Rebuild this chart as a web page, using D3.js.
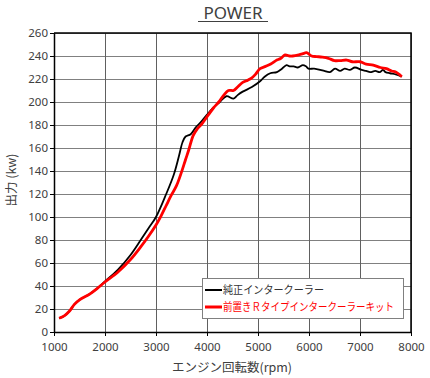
<!DOCTYPE html>
<html>
<head>
<meta charset="utf-8">
<script src="https://cdn.jsdelivr.net/npm/d3@7"></script>
<style>
  body { margin: 0; background: #fff; }
  svg text { font-family: "Noto Sans", "Noto Sans CJK JP", sans-serif; fill: #404040; }
</style>
</head>
<body>
<svg id="power_svg" width="430" height="378"></svg>
<script>
// engine speed (rpm) and output (kW)
var stockRpm = [1100, 1200, 1300, 1400, 1500, 1700, 1850, 2000, 2250, 2500, 2700, 2850, 3000, 3200, 3350, 3450, 3520, 3580, 3680, 3780, 3870, 4000, 4100, 4250, 4380, 4520, 4600, 4700, 4880, 5040, 5130, 5240, 5370, 5470, 5560, 5620, 5700, 5780, 5880, 5940, 5990, 6100, 6220, 6300, 6410, 6510, 6610, 6700, 6800, 6900, 7030, 7120, 7200, 7300, 7390, 7450, 7500, 7590, 7700, 7820]
var stockKw = [12, 14, 18, 24, 28, 33, 38, 44, 54, 67, 80, 90, 100, 120, 137, 153, 165, 170, 172, 178, 182, 189, 194, 200, 205, 203, 206, 209, 213, 218, 222, 225, 226, 229, 232, 231, 231, 230, 232, 231, 229, 229, 228, 227, 226, 229, 227, 229, 228, 230, 228, 227, 226, 227, 226, 228, 226, 225, 224, 222]

var kitRpm = [1100, 1200, 1300, 1400, 1500, 1700, 1850, 2000, 2250, 2500, 2700, 2850, 3000, 3100, 3200, 3300, 3400, 3500, 3580, 3640, 3730, 3800, 3900, 4030, 4130, 4230, 4330, 4420, 4520, 4600, 4700, 4800, 4880, 4950, 5040, 5150, 5250, 5350, 5450, 5530, 5620, 5680, 5800, 5880, 5950, 6050, 6150, 6260, 6380, 6500, 6610, 6740, 6850, 7000, 7120, 7260, 7400, 7520, 7620, 7700, 7820]
var kitKw = [12, 14, 18, 24, 28, 33, 38, 43.5, 52, 63, 74, 83, 93, 101, 110, 119, 127, 139, 150, 158, 171, 176, 181, 189, 195, 200, 206, 210, 210, 213, 217, 219, 221, 224, 229, 231, 233, 236, 238, 241, 240, 240, 241, 242, 243, 240, 239.5, 239, 238, 236, 236, 236.5, 235, 235, 233, 232, 230, 229, 227, 226, 222]

var xTicks = [1000, 2000, 3000, 4000, 5000, 6000, 7000, 8000]
var yTicks = [0, 20, 40, 60, 80, 100, 120, 140, 160, 180, 200, 220, 240, 260]
var seriesNames = ["純正インタークーラー", "前置きＲタイプインタークーラーキット"]
var seriesColors = ["#000000", "#ff0000"]

const svg = d3.select("#power_svg")
const plotLeft = 54, plotRight = 411, plotTop = 33, plotBottom = 332

let x = d3.scaleLinear().domain([1000, 8000]).range([plotLeft, plotRight])
let y = d3.scaleLinear().domain([0, 260]).range([plotBottom, plotTop])

// title
svg.append("text")
    .attr("x", 233).attr("y", 19)
    .attr("text-anchor", "middle")
    .style("font-size", "17px")
    .text("POWER")
svg.append("line")
    .attr("x1", 198).attr("x2", 268)
    .attr("y1", 21.5).attr("y2", 21.5)
    .style("stroke", "#404040")
    .style("stroke-width", 1)

// grid
svg.append("g")
    .selectAll("line")
    .data(yTicks)
    .join("line")
    .attr("x1", plotLeft).attr("x2", plotRight)
    .attr("y1", d => Math.round(y(d)) + 0.5).attr("y2", d => Math.round(y(d)) + 0.5)
    .style("stroke", "#808080")
    .style("stroke-width", 1)
svg.append("g")
    .selectAll("line")
    .data(xTicks)
    .join("line")
    .attr("x1", d => Math.round(x(d)) + 0.5).attr("x2", d => Math.round(x(d)) + 0.5)
    .attr("y1", plotTop).attr("y2", plotBottom)
    .style("stroke", "#606060")
    .style("stroke-width", 1)

// axes
let xAxis = svg.append("g")
    .attr("transform", `translate(0,${plotBottom})`)
    .call(d3.axisBottom(x).tickValues(xTicks).tickSize(4).tickSizeOuter(0).tickFormat(d3.format("d")))
let yAxis = svg.append("g")
    .attr("transform", `translate(${plotLeft},0)`)
    .call(d3.axisLeft(y).tickValues(yTicks).tickSize(4).tickSizeOuter(0))
for (let ax of [xAxis, yAxis]) {
    ax.select(".domain").style("stroke", "#000").style("stroke-width", 1.5)
    ax.selectAll(".tick line").style("stroke", "#000")
    ax.selectAll("text").style("font-size", "11.5px").style("fill", "#404040")
        .style("font-family", "'Noto Sans', sans-serif")
}
xAxis.selectAll("text").attr("dy", "1.05em")
yAxis.selectAll("text").attr("x", -6)

// frame top/right
svg.append("path")
    .attr("d", `M${plotLeft},${plotTop}H${plotRight}V${plotBottom}`)
    .style("fill", "none")
    .style("stroke", "#000")
    .style("stroke-width", 1.5)

// axis titles
svg.append("text")
    .attr("x", 232).attr("y", 372)
    .attr("text-anchor", "middle")
    .style("font-size", "12.5px")
    .style("font-family", "'Noto Sans CJK JP', sans-serif")
    .text("エンジン回転数(rpm)")
svg.append("text")
    .attr("transform", "translate(16,180) rotate(-90)")
    .attr("text-anchor", "middle")
    .style("font-size", "12.5px")
    .style("font-family", "'Noto Sans CJK JP', sans-serif")
    .text("出力 (kw)")

// lines
let line = d3.line()
    .x(d => x(d[0]))
    .y(d => y(d[1]))
    .curve(d3.curveCatmullRom.alpha(0.5))

let kitData = kitRpm.map((r, i) => [r, kitKw[i]])
let stockData = stockRpm.map((r, i) => [r, stockKw[i]])

svg.append("path")
    .datum(stockData)
    .attr("d", line)
    .style("fill", "none")
    .style("stroke", seriesColors[0])
    .style("stroke-width", 1.8)
svg.append("path")
    .datum(kitData)
    .attr("d", line)
    .style("fill", "none")
    .style("stroke", seriesColors[1])
    .style("stroke-width", 2.8)

// legend
let legend = svg.append("g").attr("transform", "translate(202,278)")
legend.append("rect")
    .attr("x", 0.5).attr("y", 0.5)
    .attr("width", 201).attr("height", 40)
    .style("fill", "#fff")
    .style("stroke", "#808080")
    .style("stroke-width", 1)
let legendWidths = [101, 171]
seriesNames.forEach((name, i) => {
    let ly = 12 + i * 17
    legend.append("line")
        .attr("x1", 3).attr("x2", 20)
        .attr("y1", ly).attr("y2", ly)
        .style("stroke", seriesColors[i])
        .style("stroke-width", i == 0 ? 2 : 3)
    legend.append("text")
        .attr("x", 21).attr("y", ly + 4)
        .attr("textLength", legendWidths[i])
        .attr("lengthAdjust", "spacingAndGlyphs")
        .style("font-size", "11px")
        .style("font-family", "'Noto Sans CJK JP', sans-serif")
        .style("fill", i == 0 ? "#333" : "#ff0000")
        .text(name)
})
</script>
</body>
</html>
